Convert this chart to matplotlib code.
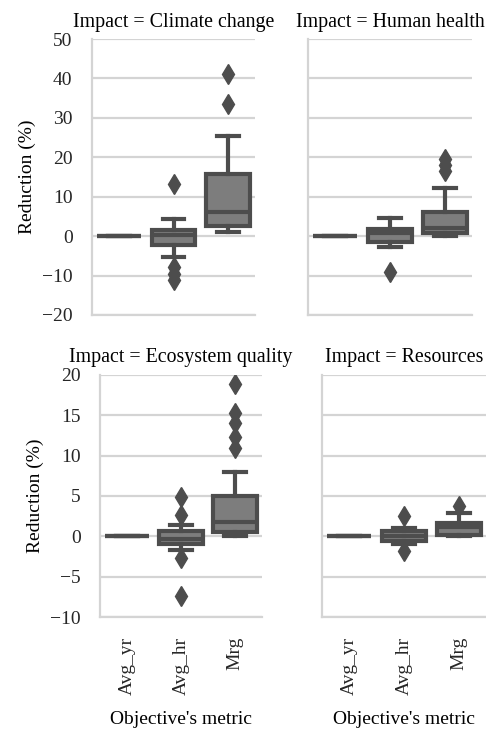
import matplotlib
matplotlib.use("Agg")
import matplotlib.pyplot as plt

plt.rcParams.update({
    "font.family": "Liberation Serif",
    "font.size": 14,
    "axes.titlesize": 14.3,
})

metrics = ["Avg_yr", "Avg_hr", "Mrg"]
impacts = ["Climate change", "Human health", "Ecosystem quality", "Resources"]

# per impact, per metric: (whislo, q1, med, q3, whishi)
cc_stats = [(0, 0, 0, 0, 0), (-5.3, -2.3, 0.2, 1.5, 4.3), (1.1, 2.6, 6.1, 15.8, 25.3)]
hh_stats = [(0, 0, 0, 0, 0), (-2.7, -1.4, 0.7, 1.8, 4.5), (0.1, 0.9, 2.0, 6.1, 12.2)]
eq_stats = [(0, 0, 0, 0, 0), (-1.7, -0.95, -0.35, 0.6, 1.45), (0.0, 0.5, 1.8, 5.0, 8.0)]
rs_stats = [(0, 0, 0, 0, 0), (-1.0, -0.6, 0.0, 0.6, 1.0), (0.0, 0.2, 1.15, 1.7, 2.9)]

cc_fliers = [[], [13.3, -7.8, -9.5, -11.0], [41.0, 33.6]]
hh_fliers = [[], [-9.0], [19.5, 18.0, 16.5]]
eq_fliers = [[], [4.9, 2.6, -2.7, -7.4], [18.9, 15.3, 14.1, 12.3, 11.0]]
rs_fliers = [[], [2.5, -1.8], [3.8]]

all_stats = [cc_stats, hh_stats, eq_stats, rs_stats]
all_fliers = [cc_fliers, hh_fliers, eq_fliers, rs_fliers]

FACE = "#7d7d7d"
EDGE = "#4d4d4d"
GRID = "#d4d4d4"

fig = plt.figure(figsize=(4.86, 7.30), dpi=100)
W, H = 486, 730
boxes_px = [(92, 39, 163, 276), (308, 39, 164, 276),
            (100, 375, 162, 242), (322, 375, 164, 242)]
ylims = [(-20, 50), (-20, 50), (-10, 20), (-10, 20)]
yticks = [range(-20, 51, 10), range(-20, 51, 10), range(-10, 21, 5), range(-10, 21, 5)]

for i, (impact, stats, fliers) in enumerate(zip(impacts, all_stats, all_fliers)):
    x, y, w, h = boxes_px[i]
    ax = fig.add_axes([x / W, (H - y - h) / H, w / W, h / H])

    bxp = []
    for name, s, f in zip(metrics, stats, fliers):
        bxp.append(dict(label=name, whislo=s[0], q1=s[1], med=s[2],
                        q3=s[3], whishi=s[4], fliers=f))
    ax.bxp(bxp, positions=range(len(metrics)), widths=0.8, capwidths=0.4,
           patch_artist=True, showfliers=True,
           boxprops=dict(facecolor=FACE, edgecolor=EDGE, linewidth=3),
           medianprops=dict(color=EDGE, linewidth=3),
           whiskerprops=dict(color=EDGE, linewidth=3),
           capprops=dict(color=EDGE, linewidth=3),
           flierprops=dict(marker="d", markerfacecolor=EDGE,
                           markeredgecolor=EDGE, markersize=10.5))

    ax.set_xlim(-0.5, 2.5)
    ax.set_ylim(*ylims[i])
    ax.set_yticks(list(yticks[i]))
    ax.yaxis.grid(True, color=GRID, linewidth=1.6)
    ax.set_axisbelow(True)
    for sp in ["top", "right"]:
        ax.spines[sp].set_visible(False)
    for sp in ["left", "bottom"]:
        ax.spines[sp].set_color(GRID)
        ax.spines[sp].set_linewidth(1.6)
    ax.tick_params(length=0, pad=14, colors="#262626")
    ax.set_title(f"Impact = {impact}", pad=9)

    if i < 2:
        ax.set_xticklabels([])
    else:
        ax.set_xticklabels(metrics, rotation=90)
        ax.set_xlabel("Objective's metric", labelpad=12)
    if i % 2 == 1:
        ax.set_yticklabels([])
    else:
        ax.set_ylabel("Reduction (%)", labelpad=4)

fig.savefig("out.png", dpi=100)
